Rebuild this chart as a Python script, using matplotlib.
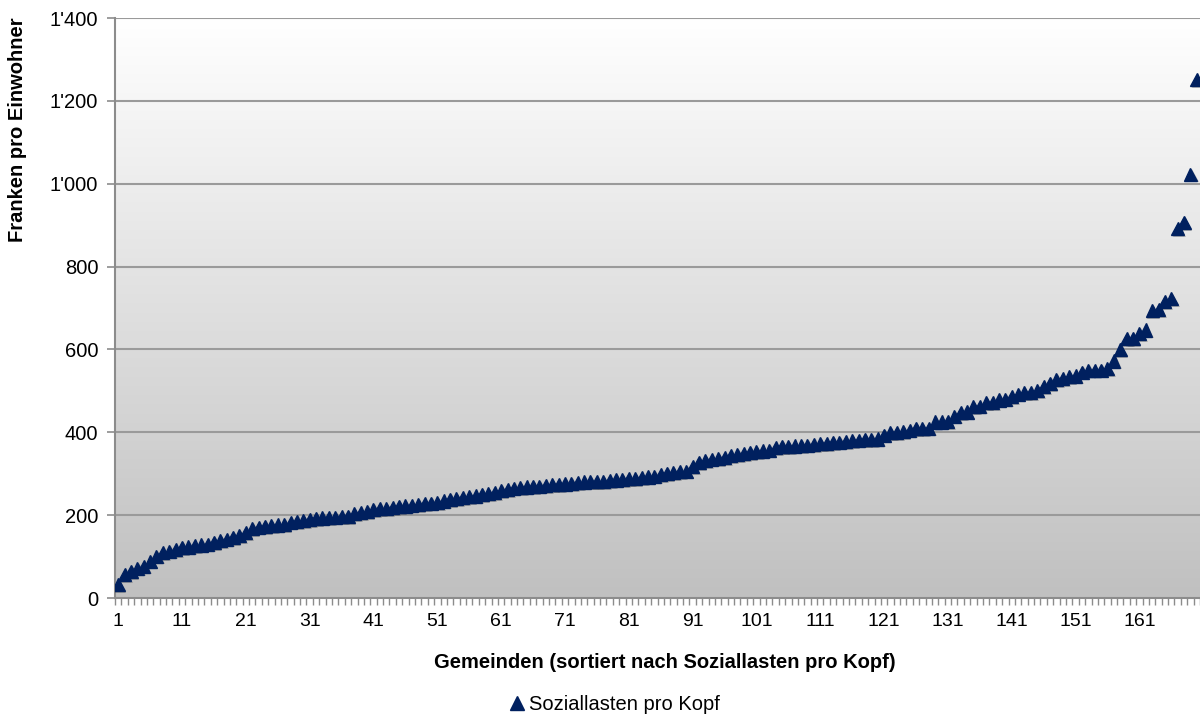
import numpy as np
import matplotlib
matplotlib.use("Agg")
import matplotlib.pyplot as plt
from matplotlib.colors import LinearSegmentedColormap
from matplotlib.ticker import FuncFormatter, FixedLocator
from matplotlib.lines import Line2D
import matplotlib.patheffects as pe

plt.rcParams['font.family'] = ['Liberation Sans', 'DejaVu Sans']

# Soziallasten pro Kopf, sortiert (Franken pro Einwohner)
soziallasten = [
    33, 57, 63, 72, 77, 89, 101, 109, 113, 117,
    121, 123, 126, 128, 130, 134, 138, 142, 146, 150,
    158, 168, 171, 173, 175, 176, 178, 183, 185, 187,
    189, 191, 193, 194, 195, 196, 197, 203, 206, 209,
    214, 216, 216, 218, 220, 222, 224, 226, 228, 229,
    230, 234, 238, 240, 242, 245, 246, 249, 252, 254,
    260, 262, 265, 266, 268, 269, 270, 272, 273, 274,
    275, 277, 278, 280, 281, 281, 281, 283, 285, 286,
    288, 288, 290, 292, 294, 298, 301, 302, 305, 306,
    318, 327, 332, 335, 337, 339, 343, 347, 349, 351,
    353, 355, 357, 363, 365, 365, 367, 368, 369, 371,
    372, 373, 375, 376, 378, 380, 381, 382, 383, 384,
    393, 399, 399, 401, 405, 409, 409, 410, 425, 425,
    426, 439, 447, 449, 462, 463, 471, 471, 478, 480,
    486, 492, 496, 496, 500, 510, 518, 528, 529, 534,
    536, 545, 550, 550, 550, 553, 572, 599, 626, 626,
    639, 647, 693, 697, 715, 722, 891, 906, 1023, 1252,
]
gemeinden = list(range(1, len(soziallasten) + 1))
x_labels = gemeinden[::10]
y_ticks = [0, 200, 400, 600, 800, 1000, 1200, 1400]

navy = '#00205f'

fig = plt.figure(figsize=(12, 7.18), dpi=100)
ax = fig.add_axes([115 / 1200, 1 - 598 / 718, 1085 / 1200, 580 / 718])

# grey gradient in the plot area, light at the top
grad = LinearSegmentedColormap.from_list('bg', ['#c0c0c0', '#ffffff'])
ax.imshow(np.linspace(0, 1, 256).reshape(-1, 1), cmap=grad, aspect='auto',
          extent=[0, 1, 0, 1], transform=ax.transAxes, origin='lower', zorder=0)

ax.set_xlim(0.5, len(soziallasten) + 0.5)
ax.set_ylim(0, 1400)

for y in y_ticks[1:]:
    ax.axhline(y, color='#9a9a9a', lw=1.5, zorder=1)

ax.plot(gemeinden, soziallasten, linestyle='none', marker='^', ms=9.5,
        color=navy, zorder=3,
        path_effects=[pe.SimplePatchShadow(offset=(1.2, -1.2), shadow_rgbFace='#555555', alpha=0.35),
                      pe.Normal()])

# axes styling
for s in ['top', 'right']:
    ax.spines[s].set_visible(False)
for s in ['left', 'bottom']:
    ax.spines[s].set_color('#8c8c8c')
    ax.spines[s].set_linewidth(1.5)

ax.set_yticks(y_ticks)
ax.yaxis.set_major_formatter(FuncFormatter(lambda v, p: f"{int(v):,}".replace(",", "'")))
ax.tick_params(axis='y', length=6, width=1.2, color='#8c8c8c', labelsize=14.5, pad=6)

ax.xaxis.set_major_locator(FixedLocator(x_labels))
ax.set_xticklabels([str(v) for v in x_labels],
                   fontfamily=['Liberation Sans Narrow', 'Liberation Sans'])
ax.xaxis.set_minor_locator(FixedLocator(np.arange(0.5, len(soziallasten) + 1, 1)))
ax.tick_params(axis='x', which='major', length=0, labelsize=14, pad=11)
ax.tick_params(axis='x', which='minor', length=5, width=1, color='#8c8c8c')

fig.text(18 / 1200, 1 - 17 / 718, 'Franken pro Einwohner', rotation=90,
         ha='center', va='top', fontsize=14.5, fontweight='bold')
fig.text(665 / 1200, 1 - 663 / 718, 'Gemeinden (sortiert nach Soziallasten pro Kopf)',
         ha='center', va='center', fontsize=14.5, fontweight='bold')

handle = Line2D([], [], linestyle='none', marker='^', ms=10, color=navy)
fig.legend([handle], ['Soziallasten pro Kopf'], loc='center',
           bbox_to_anchor=(614 / 1200, 1 - 705 / 718), frameon=False,
           fontsize=14.5, handlelength=0.8, handletextpad=0.2, borderpad=0)

fig.savefig('out.png', dpi=100, facecolor='white')
